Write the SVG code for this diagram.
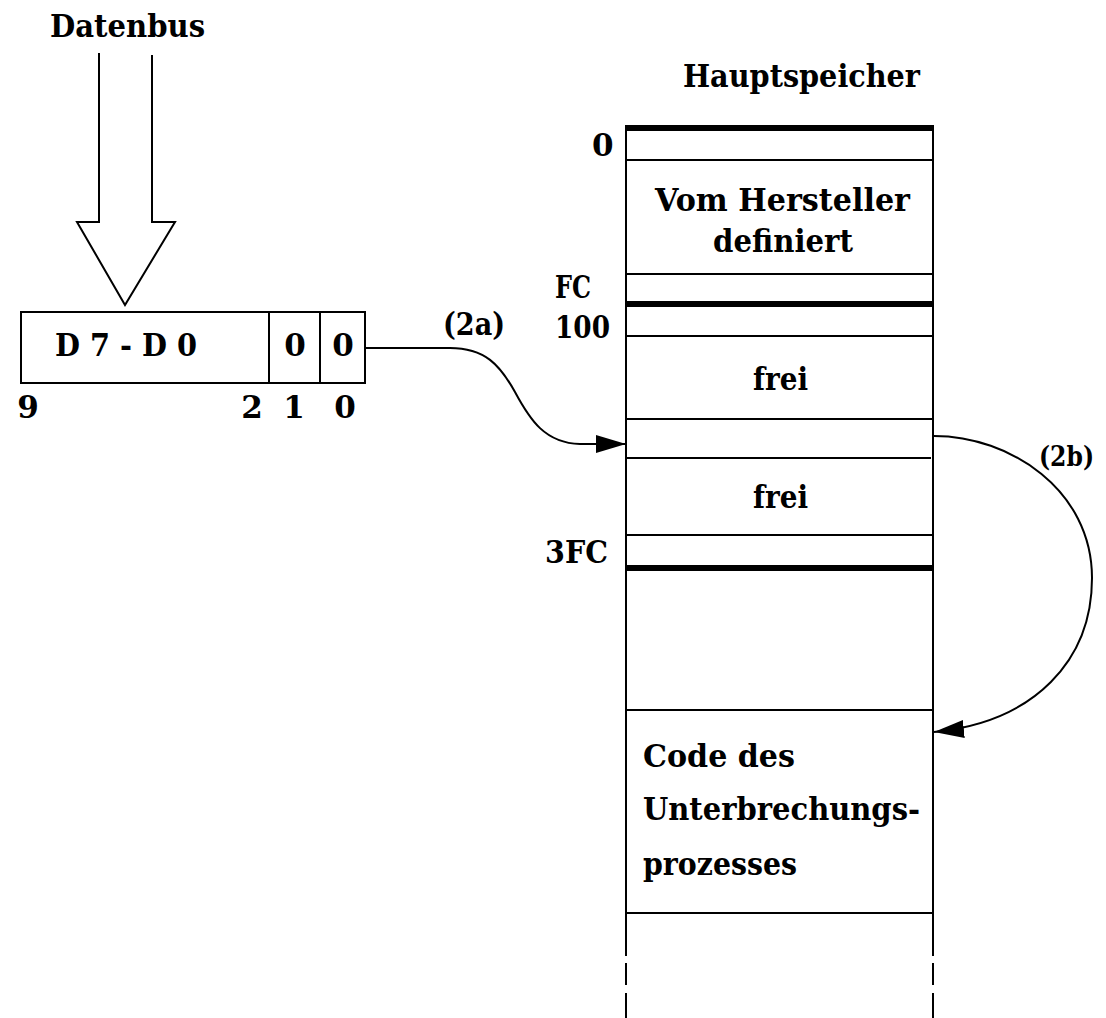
<svg xmlns="http://www.w3.org/2000/svg" width="1106" height="1018" viewBox="0 0 1106 1018">
<style>
  .t{font-family:"DejaVu Serif","Liberation Serif",serif;font-weight:bold;font-size:31px;fill:#000}
  .c{text-anchor:middle}
  .ln{stroke:#000;stroke-width:2;fill:none}
  .thick{stroke:#000;stroke-width:6;fill:none}
  .conn{stroke:#000;stroke-width:2;fill:none}
</style>
<defs>
  <marker id="ah" markerWidth="30" markerHeight="18" refX="30" refY="9" orient="auto" markerUnits="userSpaceOnUse">
    <path d="M0,0 L30,9 L0,18 Z" fill="#000"/>
  </marker>
</defs>
<rect width="1106" height="1018" fill="#fff"/>

<g id="datenbus">
  <text class="t" x="50" y="37" textLength="155" lengthAdjust="spacingAndGlyphs">Datenbus</text>
  <path class="ln" d="M99,53 V222 H77 L125,305 L175,222 H152 V55"/>
</g>

<g id="register">
  <rect class="ln" x="21" y="312" width="344" height="71"/>
  <line class="ln" x1="269" y1="312" x2="269" y2="383"/>
  <line class="ln" x1="320" y1="312" x2="320" y2="383"/>
  <text class="t" x="55" y="356" textLength="142" lengthAdjust="spacingAndGlyphs">D 7 - D 0</text>
  <text class="t c" x="295" y="356">0</text>
  <text class="t c" x="343" y="356">0</text>
  <text class="t c" x="28" y="418">9</text>
  <text class="t c" x="252" y="418">2</text>
  <text class="t c" x="294" y="418">1</text>
  <text class="t c" x="345" y="418">0</text>
</g>

<g id="hauptspeicher">
  <text class="t" x="683" y="87" textLength="237" lengthAdjust="spacingAndGlyphs">Hauptspeicher</text>
  <line class="ln" x1="626" y1="125" x2="626" y2="956"/>
  <line class="ln" x1="933" y1="125" x2="933" y2="956"/>
  <line class="ln" x1="626" y1="963" x2="626" y2="985"/>
  <line class="ln" x1="933" y1="963" x2="933" y2="985"/>
  <line class="ln" x1="626" y1="993" x2="626" y2="1018"/>
  <line class="ln" x1="933" y1="993" x2="933" y2="1018"/>
  <line class="thick" x1="625" y1="128" x2="934" y2="128"/>
  <line class="ln" x1="626" y1="160" x2="933" y2="160"/>
  <line class="ln" x1="626" y1="274" x2="933" y2="274"/>
  <line class="thick" x1="625" y1="304" x2="934" y2="304"/>
  <line class="ln" x1="626" y1="336" x2="933" y2="336"/>
  <line class="ln" x1="626" y1="419" x2="933" y2="419"/>
  <line class="ln" x1="626" y1="458" x2="931" y2="458"/>
  <line class="ln" x1="626" y1="535" x2="933" y2="535"/>
  <line class="thick" x1="625" y1="568" x2="934" y2="568"/>
  <line class="ln" x1="626" y1="710" x2="933" y2="710"/>
  <line class="ln" x1="626" y1="913" x2="933" y2="913"/>
  <text class="t" x="592" y="156">0</text>
  <text class="t" x="555" y="298" textLength="36" lengthAdjust="spacingAndGlyphs">FC</text>
  <text class="t" x="555" y="338" textLength="55" lengthAdjust="spacingAndGlyphs">100</text>
  <text class="t" x="545" y="563" textLength="63" lengthAdjust="spacingAndGlyphs">3FC</text>
  <text class="t" x="655" y="211" textLength="255" lengthAdjust="spacingAndGlyphs">Vom Hersteller</text>
  <text class="t" x="713" y="252" textLength="140" lengthAdjust="spacingAndGlyphs">definiert</text>
  <text class="t" x="753" y="390" textLength="55" lengthAdjust="spacingAndGlyphs">frei</text>
  <text class="t" x="753" y="508" textLength="55" lengthAdjust="spacingAndGlyphs">frei</text>
  <text class="t" x="643" y="767" textLength="152" lengthAdjust="spacingAndGlyphs">Code des</text>
  <text class="t" x="643" y="820" textLength="277" lengthAdjust="spacingAndGlyphs">Unterbrechungs-</text>
  <text class="t" x="643" y="875" textLength="154" lengthAdjust="spacingAndGlyphs">prozesses</text>
</g>

<g id="connectors">
  <path class="conn" d="M366,348 L450,348 C485,348 500,365 515,392 C530,420 545,443 580,444 L626,444" marker-end="url(#ah)"/>
  <text class="t" x="443" y="335" textLength="62" lengthAdjust="spacingAndGlyphs">(2a)</text>
  <path class="conn" d="M934,436 C1010,436 1092,490 1092,578 C1092,660 1035,722 934,732" marker-end="url(#ah)"/>
  <text class="t" x="1039" y="466" style="font-size:28px" textLength="55" lengthAdjust="spacingAndGlyphs">(2b)</text>
</g>
</svg>
